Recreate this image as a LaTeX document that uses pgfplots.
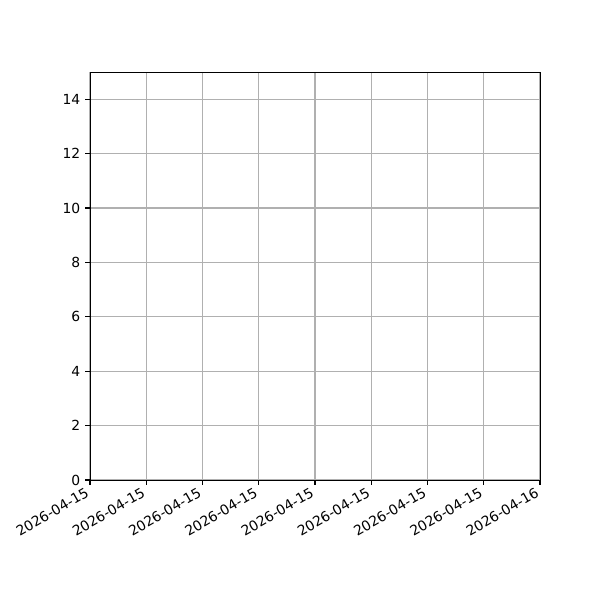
\documentclass[border=0pt]{standalone}
\usepackage{fontspec}
\setmainfont{DejaVu Sans}
\usepackage{pgfplots}
\pgfplotsset{compat=1.18}
\begin{document}
\begin{tikzpicture}
\path[use as bounding box] (0,0) rectangle (432pt,432pt);
\begin{axis}[
  at={(64.8pt,86.4pt)}, anchor=south west,
  scale only axis, width=324pt, height=293.76pt,
  xmin=0, xmax=8, ymin=0, ymax=15,
  xtick={0,1,2,3,4,5,6,7,8},
  xticklabels={2026-04-15,2026-04-15,2026-04-15,2026-04-15,2026-04-15,2026-04-15,2026-04-15,2026-04-15,2026-04-16},
  ytick={0,2,4,6,8,10,12,14},
  xtick pos=lower, ytick pos=left,
  tick align=outside, major tick length=3.5pt,
  tick style={black, line width=0.8pt},
  axis line style={line width=0.7pt},
  grid=major, grid style={color=black!31, line width=0.8pt},
  xticklabel style={xshift=-3.5pt, rotate=30, anchor=north east, font=\fontsize{10}{12}\selectfont, inner sep=1pt},
  yticklabel style={font=\fontsize{10}{12}\selectfont},
  /pgf/number format/assume math mode=true,
]
\end{axis}
\end{tikzpicture}
\end{document}
